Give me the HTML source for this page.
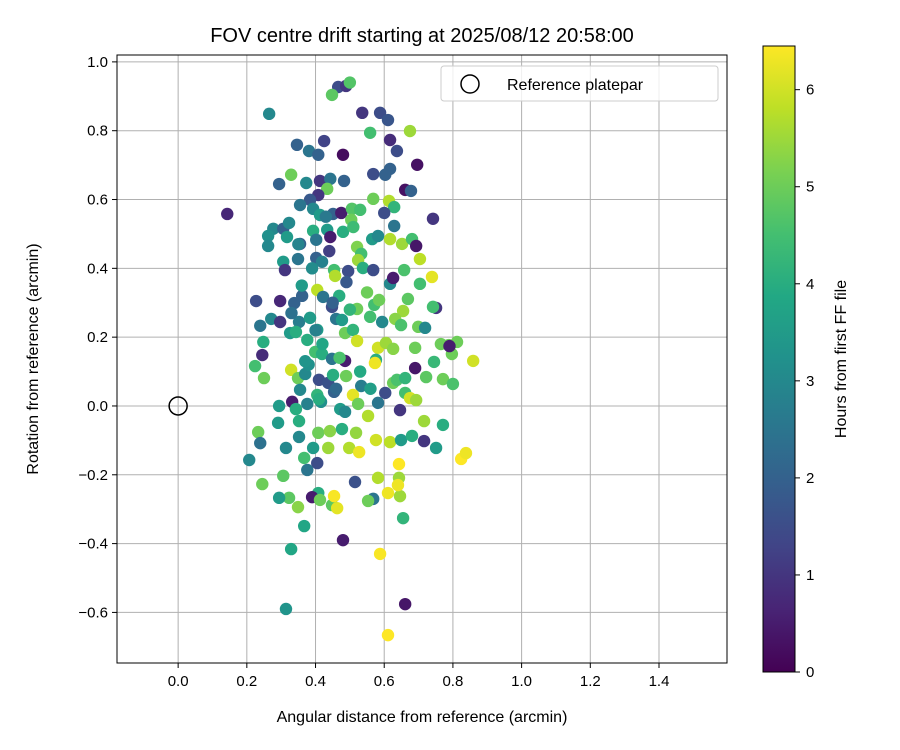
<!DOCTYPE html>
<html><head><meta charset="utf-8"><style>
html,body{margin:0;padding:0;background:#fff;}
svg{display:block;font-family:"Liberation Sans","DejaVu Sans",sans-serif;}
</style></head><body>
<svg id="chart" width="900" height="750" viewBox="0 0 900 750" xmlns="http://www.w3.org/2000/svg">
<defs><linearGradient id="vir" x1="0" y1="1" x2="0" y2="0">
<stop offset="0" stop-color="#440154"/><stop offset="0.1" stop-color="#482475"/><stop offset="0.2" stop-color="#414487"/><stop offset="0.3" stop-color="#355f8d"/><stop offset="0.4" stop-color="#2a788e"/><stop offset="0.5" stop-color="#21918c"/><stop offset="0.6" stop-color="#22a884"/><stop offset="0.7" stop-color="#44bf70"/><stop offset="0.8" stop-color="#7ad151"/><stop offset="0.9" stop-color="#bddf26"/><stop offset="1" stop-color="#fde725"/>
</linearGradient>
<clipPath id="clip"><rect x="117" y="55" width="610" height="608"/></clipPath></defs>
<text x="422" y="42" font-size="20" text-anchor="middle">FOV centre drift starting at 2025/08/12 20:58:00</text>
<g id="grid"></g>
<g id="points" clip-path="url(#clip)"></g>
<rect x="117" y="55" width="610" height="608" fill="none" stroke="#000" stroke-width="1"/>
<g id="axes"></g>
<text x="422" y="722" font-size="16" text-anchor="middle">Angular distance from reference (arcmin)</text>
<text transform="translate(38,359) rotate(-90)" font-size="16" text-anchor="middle">Rotation from reference (arcmin)</text>
<g>
<rect x="441" y="66" width="277" height="35" rx="3" fill="#fff" fill-opacity="0.8" stroke="#ccc"/>
<circle cx="470" cy="84" r="9" fill="none" stroke="#000" stroke-width="1.5"/>
<text x="507" y="90" font-size="16">Reference platepar</text>
</g>
<rect x="763" y="46" width="32" height="626" fill="url(#vir)" stroke="#000" stroke-width="1"/>
<g id="cbar"></g>
<text transform="translate(846,359) rotate(-90)" font-size="16" text-anchor="middle">Hours from first FF file</text>
</svg>
<script>
const xTicks=[0.0,0.2,0.4,0.6,0.8,1.0,1.2,1.4];
const yTicks=[-0.6,-0.4,-0.2,0.0,0.2,0.4,0.6,0.8,1.0];
const cTicks=[0,1,2,3,4,5,6];
const ptX=[.143,.265,.466,.489,.5,.448,.536,.588,.611,.559,.675,.617,.637,.346,.425,.381,.408,.48,.696,.603,.617,.329,.294,.373,.413,.443,.483,.568,.661,.678,.434,.408,.568,.614,.629,.742,.384,.355,.393,.413,.451,.475,.506,.530,.504,.600,
.277,.306,.323,.262,.262,.317,.355,.393,.402,.434,.443,.480,.521,.533,.565,.582,.617,.629,.652,.681,.693,.704,.739,.658,.306,.311,.349,.402,.419,.454,.457,.524,.495,.538,.568,.617,.626,.704,.227,.297,.338,.361,.405,.422,.448,.469,.521,.571,.585,.751,.669,.655,.699,.719,.742,.271,.239,.297,.352,.384,.405,.460,.477,.486,.509,.559,.594,.632,.649,.248,.245,.326,.343,.376,.399,.419,.448,.486,.521,.582,.605,.576,.626,.690,.765,.788,.812,.797,.859,.745,.79,.224,.250,.329,.349,.370,.410,.437,.451,.489,.573,.626,.637,.690,.661,.722,.771,.800,.533,.355,.405,.454,.509,.603,.661,.675,.693,.332,.376,.416,.472,.524,.582,.294,.343,.486,.553,.646,.716,.771,.233,.239,.291,.352,.352,.408,.442,.477,.518,.576,.617,.649,.681,.716,.751,.314,.393,.437,.498,.527,.207,.367,.405,.376,.643,.824,.838,.306,.582,.643,.515,.245,.408,.323,.294,.390,.413,.568,.611,.646,.640,.553,.349,.448,.454,.463,.367,.655,.480,.329,.588,.661,.314,.611,
.38,.42,.46,.50,.36,.44,.40,.47,.53,.33,.39,.45,.51,.56,.43,.37,.49,.41,.55,.35];
const ptY=[.558,.849,.927,.93,.94,.904,.852,.852,.831,.794,.799,.773,.741,.759,.770,.741,.730,.73,.701,.672,.689,.672,.645,.648,.654,.660,.654,.674,.628,.625,.631,.613,.602,.596,.578,.544,.599,.584,.573,.555,.558,.561,.573,.570,.541,.561,
.515,.515,.532,.494,.465,.491,.471,.509,.483,.512,.491,.506,.462,.442,.485,.494,.485,.523,.471,.485,.465,.427,.375,.395,.419,.395,.427,.430,.419,.395,.378,.424,.392,.401,.395,.355,.372,.355,.305,.305,.299,.320,.337,.317,.288,.320,.282,.294,.308,.285,.311,.276,.230,.227,.288,.253,.233,.244,.244,.256,.221,.253,.250,.212,.221,.259,.244,.253,.235,.186,.148,.212,.215,.192,.157,.151,.137,.131,.189,.169,.183,.134,.166,.169,.180,.177,.186,.151,.131,.128,.174,.116,.081,.105,.081,.093,.076,.067,.090,.087,.125,.067,.076,.110,.081,.084,.078,.064,.058,.047,.032,.041,.032,.038,.038,.023,.017,.012,.006,.012,-.009,.006,.009,0,-.009,-.017,-.029,-.012,-.044,-.055,-.076,-.108,-.049,-.044,-.090,-.078,-.073,-.067,-.078,-.099,-.105,-.099,-.087,-.102,-.122,-.122,-.122,-.122,-.122,-.134,-.157,-.151,-.166,-.186,-.169,-.154,-.137,-.203,-.209,-.209,-.221,-.227,-.253,-.267,-.267,-.265,-.273,-.270,-.253,-.262,-.230,-.276,-.294,-.288,-.262,-.297,-.349,-.326,-.390,-.416,-.430,-.576,-.590,-.666,
.12,.18,.05,.28,.35,.45,.22,.14,.10,.27,.40,.30,.52,.05,.55,.13,.36,.02,.33,.47];
const ptH=[0.7,3,1.5,1,4.7,4.8,1,1.5,1.7,4.5,5.5,0.8,1.5,2,1.3,2.5,2,0.2,0.3,2,2,5,2,3,1,2.5,2,1.5,0.3,2,5,1,5,5.7,4.2,1,1.8,2.5,3,3.5,2,0.5,4.7,4.5,5,1.5,
3,2,3,3.2,3,3.5,2,4,2.5,3.5,0.5,4,5.2,4.5,3.5,3,5.7,2.5,5.5,4.5,0.4,5.8,6.2,4.6,3.5,1,2.5,2,2.8,4.5,5.7,5.5,1.5,4,1.5,3,0.5,4.5,1.5,0.7,2,2,5.8,2.5,1.5,4,5,4.5,5,1,4.8,5.5,5,3,4.5,3,2.5,1,2.7,3.5,3.5,2.5,3.5,5,4.2,4.5,3,5.3,4.6,4,0.8,3.5,4,4,4.5,4,2.5,0.5,6,6,5.5,4,5.3,5,5,5,5,5,6,4.3,0.5,4.5,5,6,5,3,1.5,1.6,4,5,6.3,5,4.6,0.4,4.2,4.8,5,4.6,2.7,3,4.2,2,6.2,1.5,4.5,6,5.5,0.5,2.8,3.2,3.5,5,2.5,3.5,4,3,5.7,1,5.5,4,5,2.4,3.5,4,3,5,5.3,4,5.4,6,5.8,3.5,4,1,3.5,3,3.5,5.5,5.7,6.3,3,4.5,1.5,2.5,6.5,6.5,6.3,4.8,5.7,5.5,1.6,5,4,4.8,3.5,0.5,5,2.5,6.3,5.5,6.3,5,5.3,4.8,6.4,6.2,3.8,4.2,0.5,3.8,6.4,0.4,3.3,6.5,
3.2,3.8,2.2,4.2,3.5,1.2,2.8,4.6,3.9,2.4,3.1,2.0,4.4,3.6,2.6,3.3,1.8,4.0,5.0,2.9];
const NS="http://www.w3.org/2000/svg";
const X0=117,X1=727,Y0=55,Y1=663,XMIN=-0.178,XMAX=1.598,YMIN=-0.747,YMAX=1.02,HMAX=6.45;
function sx(v){return X0+(v-XMIN)/(XMAX-XMIN)*(X1-X0);}
function sy(v){return Y1-(v-YMIN)/(YMAX-YMIN)*(Y1-Y0);}
function sc(v){return 672-v/HMAX*626;}
const stops=[[68,1,84],[72,36,117],[65,68,135],[53,95,141],[42,120,142],[33,145,140],[34,168,132],[68,191,112],[122,209,81],[189,223,38],[253,231,37]];
function vir(h){let t=Math.max(0,Math.min(1,h/HMAX))*10;let i=Math.min(9,Math.floor(t)),f=t-i;const a=stops[i],b=stops[i+1];return `rgb(${a.map((c,k)=>Math.round(c+(b[k]-c)*f)).join(',')})`;}
function mk(tag,attrs,parent){const e=document.createElementNS(NS,tag);for(const k in attrs)e.setAttribute(k,attrs[k]);parent.appendChild(e);return e;}
const grid=document.getElementById('grid'),axes=document.getElementById('axes'),pts=document.getElementById('points'),cbar=document.getElementById('cbar');
xTicks.forEach(v=>{const x=sx(v);
const g=mk('line',{x1:x,x2:x,y1:Y0,y2:Y1,stroke:'#b0b0b0','stroke-width':1},grid);


const t=mk('line',{x1:x,x2:x,y1:Y1,y2:Y1+5,stroke:'#000'},axes);


const l=mk('text',{x:x,y:Y1+23,'font-size':15,'text-anchor':'middle'},axes);l.textContent=v.toFixed(1);

});
yTicks.forEach(v=>{const y=sy(v);
const g=mk('line',{x1:X0,x2:X1,y1:y,y2:y,stroke:'#b0b0b0','stroke-width':1},grid);


const t=mk('line',{x1:X0-5,x2:X0,y1:y,y2:y,stroke:'#000'},axes);


const l=mk('text',{x:X0-9,y:y+5,'font-size':15,'text-anchor':'end'},axes);l.textContent=(Math.abs(v)<1e-9?0:v).toFixed(1).replace('-','−');

});
cTicks.forEach(v=>{const y=sc(v);
const t=mk('line',{x1:795,x2:800,y1:y,y2:y,stroke:'#000'},cbar);


const l=mk('text',{x:806,y:y+5,'font-size':15},cbar);l.textContent=String(v);

});
for(let i=0;i<ptX.length;i++){
const c=mk('circle',{cx:sx(ptX[i]),cy:sy(ptY[i]),r:6.2,fill:vir(ptH[i])},pts);

}
const ref=mk('circle',{cx:sx(0),cy:sy(0),r:9,fill:'none',stroke:'#000','stroke-width':1.5},pts);


</script>
</body></html>
